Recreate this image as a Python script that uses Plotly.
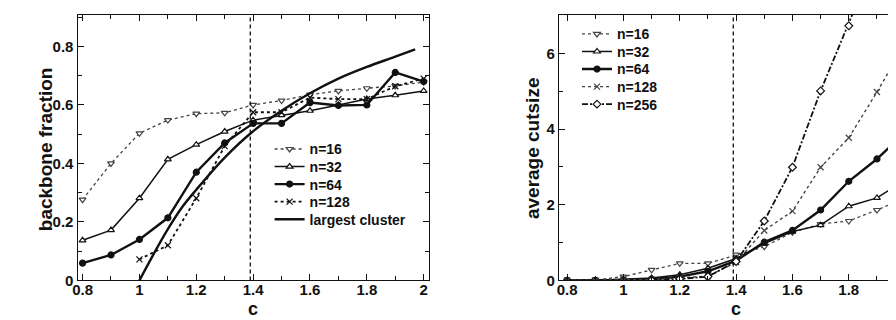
import plotly.graph_objects as go

# ---------------- data ----------------
c_vals = [0.8, 0.9, 1.0, 1.1, 1.2, 1.3, 1.4, 1.5, 1.6, 1.7, 1.8, 1.9, 2.0]
c_threshold = 1.39

# left panel: backbone fraction
bb_n16 = [0.276, 0.40, 0.503, 0.548, 0.57, 0.573, 0.60, 0.615, 0.635, 0.648, 0.657, 0.665, 0.678]
bb_n32 = [0.137, 0.172, 0.281, 0.414, 0.464, 0.509, 0.548, 0.565, 0.58, 0.60, 0.62, 0.633, 0.648]
bb_n64 = [0.059, 0.087, 0.14, 0.214, 0.37, 0.47, 0.537, 0.537, 0.608, 0.598, 0.60, 0.711, 0.68]
bb_n128 = [None, None, 0.072, 0.12, 0.281, 0.459, 0.575, 0.575, 0.625, 0.62, 0.62, 0.664, 0.69]
lc_c = [1.0, 1.05, 1.1, 1.15, 1.2, 1.3, 1.4, 1.5, 1.6, 1.7, 1.8, 1.9, 1.97]
lc_frac = [0.0, 0.09, 0.175, 0.25, 0.31, 0.42, 0.51, 0.58, 0.64, 0.69, 0.73, 0.765, 0.79]

# right panel: average cutsize
cs_n16 = [0.0, 0.01, 0.10, 0.28, 0.45, 0.45, 0.68, 0.89, 1.27, 1.49, 1.57, 1.86, 2.18]
cs_n32 = [0.0, 0.0, 0.03, 0.06, 0.15, 0.32, 0.58, 0.97, 1.29, 1.46, 1.96, 2.18, 2.65]
cs_n64 = [0.0, 0.0, 0.01, 0.03, 0.10, 0.24, 0.52, 1.01, 1.32, 1.86, 2.62, 3.21, 3.90]
cs_n128 = [0.0, 0.0, 0.0, 0.02, 0.07, 0.11, 0.48, 1.32, 1.83, 2.99, 3.77, 4.98, 6.26]
cs_n256 = [None, None, None, 0.0, 0.04, 0.10, 0.50, 1.57, 2.99, 5.01, 6.73, 8.6, None]

left_yticks = [0, 0.2, 0.4, 0.6, 0.8]
right_yticks = [0, 2, 4, 6]
xticks = [0.8, 1.0, 1.2, 1.4, 1.6, 1.8, 2.0]
xtick_text = ["0.8", "1", "1.2", "1.4", "1.6", "1.8", "2"]

FONT = "Liberation Sans, Arial, sans-serif"
INK = "#111111"
GREY = "#444444"

fig = go.Figure()

# one legend box per entry so the rows can sit as tightly as in the original
LEFT_ROWS = [145, 163, 181, 199, 217]
RIGHT_ROWS = [27, 45, 63, 81, 99]
legend_layout = {}
legend_font = dict(family=FONT, size=14, color=INK, weight="bold")

def legend_slot(idx, x_frac, row_px):
    key = "legend" if idx == 1 else f"legend{idx}"
    legend_layout[key] = dict(x=x_frac, y=1 - row_px / 320, xanchor="left", yanchor="middle",
                              bgcolor="rgba(0,0,0,0)", font=legend_font, itemwidth=30)
    return key

def add(x, y, name, xa, ya, dash, width, symbol, color, legend, filled=False):
    fig.add_trace(go.Scatter(
        x=x, y=y, name=name, xaxis=xa, yaxis=ya, mode="lines+markers",
        line=dict(color=color, width=width, dash=dash),
        marker=dict(symbol=symbol, size=6,
                    color=color if filled else "white",
                    line=dict(color=color, width=1.2)),
        legend=legend, connectgaps=False,
    ))

LX = 0.288
RX = 0.633
# left
add(c_vals, bb_n16, "n=16", "x", "y", "dot", 1.3, "triangle-down", GREY, legend_slot(1, LX, LEFT_ROWS[0]))
add(c_vals, bb_n32, "n=32", "x", "y", "solid", 1.5, "triangle-up", INK, legend_slot(2, LX, LEFT_ROWS[1]))
add(c_vals, bb_n64, "n=64", "x", "y", "solid", 2.4, "circle", INK, legend_slot(3, LX, LEFT_ROWS[2]), filled=True)
add(c_vals, bb_n128, "n=128", "x", "y", "dot", 1.8, "x-thin", INK, legend_slot(4, LX, LEFT_ROWS[3]))
fig.add_trace(go.Scatter(x=lc_c, y=lc_frac, name="largest cluster", xaxis="x", yaxis="y",
                         mode="lines", line=dict(color=INK, width=2.4, shape="spline"),
                         legend=legend_slot(5, LX, LEFT_ROWS[4])))

# right
add(c_vals, cs_n16, "n=16", "x2", "y2", "dot", 1.3, "triangle-down", GREY, legend_slot(6, RX, RIGHT_ROWS[0]))
add(c_vals, cs_n32, "n=32", "x2", "y2", "solid", 1.5, "triangle-up", INK, legend_slot(7, RX, RIGHT_ROWS[1]))
add(c_vals, cs_n64, "n=64", "x2", "y2", "solid", 2.4, "circle", INK, legend_slot(8, RX, RIGHT_ROWS[2]), filled=True)
add(c_vals, cs_n128, "n=128", "x2", "y2", "dot", 1.4, "x-thin", GREY, legend_slot(9, RX, RIGHT_ROWS[3]))
add(c_vals, cs_n256, "n=256", "x2", "y2", "6px,2px,2px,2px", 1.8, "diamond", INK, legend_slot(10, RX, RIGHT_ROWS[4]))

# threshold lines
for xr, yr in (("x", "y domain"), ("x2", "y2 domain")):
    fig.add_shape(type="line", xref=xr, yref=yr, x0=c_threshold, x1=c_threshold, y0=0, y1=1,
                  line=dict(color=INK, width=1.3, dash="4px,3px"))

tickfont = dict(family=FONT, size=15, color=INK, weight="bold")
axis_common = dict(showline=True, linecolor=INK, linewidth=1.3, ticks="inside", ticklen=6,
                   tickcolor=INK, tickwidth=1.2, showgrid=False, zeroline=False, tickfont=tickfont)
minor_x = dict(dtick=0.1, ticks="inside", ticklen=4, tickcolor=INK, tickwidth=1)

fig.update_layout(
    width=896, height=320, autosize=False,
    margin=dict(l=0, r=0, t=0, b=0),
    paper_bgcolor="white", plot_bgcolor="white",
    xaxis=dict(domain=[0.0725, 0.4665], range=[0.7825, 2.0175], tickvals=xticks, ticktext=xtick_text,
               mirror="allticks", minor=minor_x, ticklabelstandoff=-5, **axis_common),
    yaxis=dict(domain=[0.127, 0.978], range=[0, 0.908], tickvals=left_yticks,
               ticktext=["0", "0.2", "0.4", "0.6", "0.8"], mirror="allticks",
               minor=dict(dtick=0.1, ticks="inside", ticklen=4, tickcolor=INK, tickwidth=1),
               **axis_common),
    xaxis2=dict(domain=[0.6127, 1.0], range=[0.771, 1.996], tickvals=xticks, ticktext=xtick_text,
                anchor="y2", mirror="allticks", minor=minor_x, ticklabelstandoff=-5, **axis_common),
    yaxis2=dict(domain=[0.127, 0.978], range=[0, 7.02], tickvals=right_yticks, anchor="x2",
                mirror=False, minor=dict(dtick=1, ticks="inside", ticklen=4, tickcolor=INK, tickwidth=1),
                **axis_common),
    showlegend=True,
    **legend_layout,
)

title_font = dict(family=FONT, size=19, color=INK, weight="bold")
c_font = dict(family=FONT, size=18, color=INK, weight="bold")
fig.add_annotation(text="c", xref="x", yref="paper", x=1.4, y=0.0, yanchor="bottom",
                   borderpad=0, showarrow=False, font=c_font)
fig.add_annotation(text="c", xref="x2", yref="paper", x=1.4, y=0.0, yanchor="bottom",
                   borderpad=0, showarrow=False, font=c_font)
fig.add_annotation(text="backbone fraction", xref="paper", yref="y", x=20 / 896, y=0.45,
                   textangle=-90, showarrow=False, font=title_font)
fig.add_annotation(text="average cutsize", xref="paper", yref="y2", x=523 / 896, y=3.5,
                   textangle=-90, showarrow=False, font=title_font)
# partially visible "2" tick label at the cut right edge of the right panel
fig.add_annotation(text="2", xref="x2", yref="y2", x=2.0, y=0, yanchor="top", yshift=-1,
                   showarrow=False, font=tickfont)

fig.write_html("out.html")
